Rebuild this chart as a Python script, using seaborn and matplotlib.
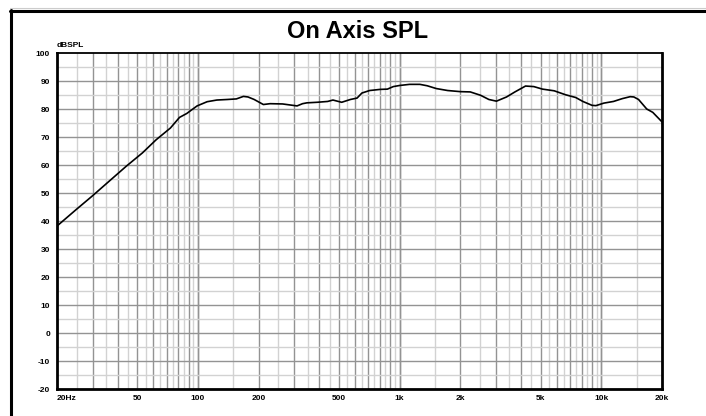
import matplotlib
matplotlib.use("Agg")
import matplotlib.pyplot as plt
from matplotlib.lines import Line2D
from matplotlib.ticker import FixedLocator, NullFormatter
import numpy as np
import pandas as pd
import seaborn as sns

# On-axis response
freq_hz = [20, 25, 30, 36, 44, 53, 62, 73, 81, 88, 99, 111, 124, 140, 155,
           168, 177, 190, 211, 228, 263, 310, 330, 347, 390, 440, 467, 516,
           570, 615, 650, 710, 800, 870, 930, 1000, 1120, 1260, 1370, 1520,
           1730, 2000, 2240, 2520, 2770, 3020, 3390, 3730, 4210, 4630, 5110,
           5840, 6640, 7470, 8100, 9000, 9400, 10300, 11500, 12700, 13900,
           14500, 15300, 16800, 18000, 20000]
spl_db = [38.2, 44.2, 49.0, 54.0, 59.5, 64.3, 69.0, 73.2, 77.0, 78.4, 81.1,
          82.6, 83.2, 83.4, 83.6, 84.5, 84.3, 83.4, 81.6, 81.9, 81.8, 81.1,
          81.9, 82.2, 82.4, 82.7, 83.2, 82.4, 83.4, 83.9, 85.7, 86.6, 87.0,
          87.1, 88.0, 88.4, 88.8, 88.8, 88.3, 87.3, 86.6, 86.2, 86.1, 84.9,
          83.4, 82.8, 84.3, 86.1, 88.2, 88.0, 87.1, 86.5, 85.1, 84.1, 82.7,
          81.3, 81.2, 82.1, 82.7, 83.7, 84.4, 84.3, 83.4, 80.0, 78.8, 75.4]

x_tick_vals = [20, 50, 100, 200, 500, 1000, 2000, 5000, 10000, 20000]
x_tick_text = ["20Hz", "50", "100", "200", "500", "1k", "2k", "5k", "10k", "20k"]
y_tick_vals = list(range(-20, 101, 10))

df = pd.DataFrame({"freq": freq_hz, "spl": spl_db})

sns.set_style("white")
plt.rcParams["font.family"] = ["Liberation Sans", "DejaVu Sans"]
plt.rcParams["text.color"] = "black"
plt.rcParams["xtick.color"] = "black"
plt.rcParams["ytick.color"] = "black"

fig = plt.figure(figsize=(7.06, 4.16), dpi=100)
ax = fig.add_axes([57 / 706, 27 / 416, 605 / 706, 336 / 416])

# grid: every half-unit per decade, darker on whole multiples
dark_x, light_x = [], []
for dec in [10, 100, 1000, 10000]:
    for m in np.arange(1.0, 10.01, 0.5):
        f = m * dec
        if 20 < f < 20000:
            (dark_x if m == int(m) else light_x).append(f)
for f in light_x:
    ax.axvline(f, color="#d2d2d2", lw=1.0, zorder=1)
for f in dark_x:
    ax.axvline(f, color="#939393", lw=1.0, zorder=1)
for v in range(-15, 100, 10):
    ax.axhline(v, color="#d2d2d2", lw=1.0, zorder=1)
for v in range(-10, 100, 10):
    ax.axhline(v, color="#939393", lw=1.0, zorder=1)

sns.lineplot(data=df, x="freq", y="spl", color="black", lw=1.2, ax=ax, zorder=3)

ax.set_xscale("log")
ax.set_xlim(20, 20000)
ax.set_ylim(-20, 100)
ax.xaxis.set_major_locator(FixedLocator(x_tick_vals))
ax.xaxis.set_minor_locator(FixedLocator([]))
ax.xaxis.set_minor_formatter(NullFormatter())
ax.set_xticks(x_tick_vals, x_tick_text)
ax.set_yticks(y_tick_vals, [str(v) for v in y_tick_vals])
ax.tick_params(axis="both", length=0, labelsize=6, labelcolor="black")
ax.tick_params(axis="x", pad=4)
ax.tick_params(axis="y", pad=5)
for lab in ax.get_xticklabels() + ax.get_yticklabels():
    lab.set_fontweight("bold")
ax.get_xticklabels()[0].set_ha("left")
ax.set_xlabel("")
ax.set_ylabel("")

for side in ["left", "bottom", "right"]:
    ax.spines[side].set_linewidth(2.0)
    ax.spines[side].set_color("black")
ax.spines["top"].set_linewidth(1.3)
ax.spines["top"].set_color("black")
for s in ax.spines.values():
    s.set_zorder(4)

ax.text(0.0, 1.012, "dBSPL", transform=ax.transAxes, fontsize=6,
        fontweight="bold", ha="left", va="bottom", color="black")

fig.text(358 / 706, 1 - 31 / 416, "On Axis SPL", fontsize=17,
         fontweight="bold", ha="center", va="center", color="black")

# outer frame (top and left edges only, like the cropped screenshot)
fig.add_artist(Line2D([10 / 706, 1], [1 - 8 / 416, 1 - 8 / 416],
                      color="#cccccc", lw=0.8, transform=fig.transFigure))
fig.add_artist(Line2D([10 / 706, 1], [1 - 10.5 / 416, 1 - 10.5 / 416],
                      color="black", lw=2.2, transform=fig.transFigure))
fig.add_artist(Line2D([10.5 / 706, 10.5 / 706], [0, 1 - 10 / 416],
                      color="black", lw=2.2, transform=fig.transFigure))

fig.savefig("out.png", dpi=100)
